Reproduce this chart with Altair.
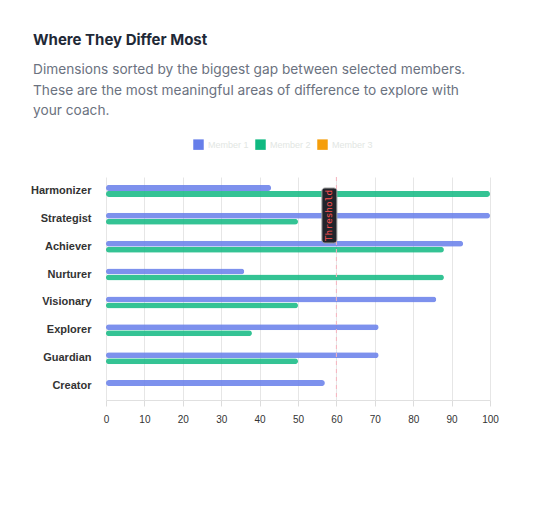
import altair as alt
import pandas as pd

# ---- data ----
dimensions = ["Harmonizer", "Strategist", "Achiever", "Nurturer",
              "Visionary", "Explorer", "Guardian", "Creator"]
series_names = ["Member 1", "Member 2", "Member 3"]
member1 = [43, 100, 93, 36, 86, 71, 71, 57]
member2 = [100, 50, 88, 88, 50, 38, 50, None]
threshold = [60]
x_ticks = [0, 10, 20, 30, 40, 50, 60, 70, 80, 90, 100]
title_text = ["Where They Differ Most"]
subtitle_lines = [
    "Dimensions sorted by the biggest gap between selected members.",
    "These are the most meaningful areas of difference to explore with",
    "your coach.",
]

colors = ["#667eea", "#10b981", "#f59e0b"]

rows = []
for d, v in zip(dimensions, member1):
    if v is not None:
        rows.append({"dimension": d, "member": series_names[0], "score": v})
for d, v in zip(dimensions, member2):
    if v is not None:
        rows.append({"dimension": d, "member": series_names[1], "score": v})
df = pd.DataFrame(rows)
thr_df = pd.DataFrame({"score": threshold, "label": ["Threshold"]})

W, H = 384, 223

x_axis = alt.Axis(values=x_ticks, title=None, grid=True,
                  gridColor="#e6e6e6", domainColor="#e0e0e0",
                  tickColor="#dcdcdc", tickSize=6, labelPadding=8,
                  labelFontSize=10, labelColor="#333333",
                  labelFont="Liberation Sans", labelOverlap=False,
                  labelFlush=False)
x_scale = alt.Scale(domain=[0, 100], nice=False)
x_enc = alt.X("score:Q", scale=x_scale, axis=x_axis)

y_enc = alt.Y("dimension:N", sort=dimensions,
              scale=alt.Scale(domain=dimensions, paddingInner=0, paddingOuter=0),
              axis=alt.Axis(title=None, domain=False, ticks=False, grid=False,
                            labelPadding=15, labelFontSize=11,
                            labelFontWeight="bold", labelColor="#333333",
                            labelFont="Liberation Sans"))
color_enc = alt.Color("member:N",
                      scale=alt.Scale(domain=series_names, range=colors),
                      legend=alt.Legend(orient="none", direction="horizontal",
                                        legendX=87, legendY=-38, title=None,
                                        symbolType="square", symbolSize=110,
                                        symbolOpacity=1, symbolStrokeWidth=0,
                                        labelColor="#e2e6e3", labelFontSize=9,
                                        labelFont="Liberation Sans",
                                        columnPadding=6, labelOffset=4))

base = alt.Chart(df)
bars1 = base.transform_filter(alt.datum.member == series_names[0]).mark_bar(
    size=6, yOffset=-3, cornerRadius=3, opacity=0.85
).encode(x=x_enc, y=y_enc, color=color_enc)
bars2 = base.transform_filter(alt.datum.member == series_names[1]).mark_bar(
    size=6, yOffset=3, cornerRadius=3, opacity=0.85
).encode(x=x_enc, y=y_enc, color=color_enc)

thr = alt.Chart(thr_df)
rule = thr.mark_rule(color="#f6b3bf", strokeDash=[4, 4], strokeWidth=1).encode(
    x=x_enc
)
box = thr.mark_rect(width=15, height=55, cornerRadius=3, color="#22242b",
                    stroke="#a0a0a0", strokeWidth=1, xOffset=-7).encode(
    x=x_enc, y=alt.value(38.5)
)
box_text = thr.mark_text(angle=270, font="DejaVu Sans Mono", fontSize=9.5,
                         color="#ff5252", align="center", baseline="middle",
                         xOffset=-7).encode(
    x=x_enc, y=alt.value(38.5), text="label:N"
)

title_df = pd.DataFrame({"txt": title_text})
title = alt.Chart(title_df).mark_text(
    align="left", baseline="alphabetic", font="Inter", fontSize=15,
    fontWeight="bold", color="#1f2937"
).encode(x=alt.value(-73), y=alt.value(-132), text="txt:N")

sub_layers = []
for i, line in enumerate(subtitle_lines):
    sub_layers.append(
        alt.Chart(pd.DataFrame({"txt": [line]})).mark_text(
            align="left", baseline="alphabetic", font="Inter", fontSize=13.7,
            color="#6b7280"
        ).encode(x=alt.value(-73), y=alt.value(-103 + i * 20.5), text="txt:N")
    )

chart = alt.layer(bars1, bars2, rule, box, box_text, title, *sub_layers).properties(
    width=W, height=H,
    autosize=alt.AutoSizeParams(type="none"),
    padding={"left": 98, "top": 169, "right": 36, "bottom": 113},
    background="white",
).configure_view(stroke=None)

chart.save("out.html", embed_options={"renderer": "svg", "actions": False})
